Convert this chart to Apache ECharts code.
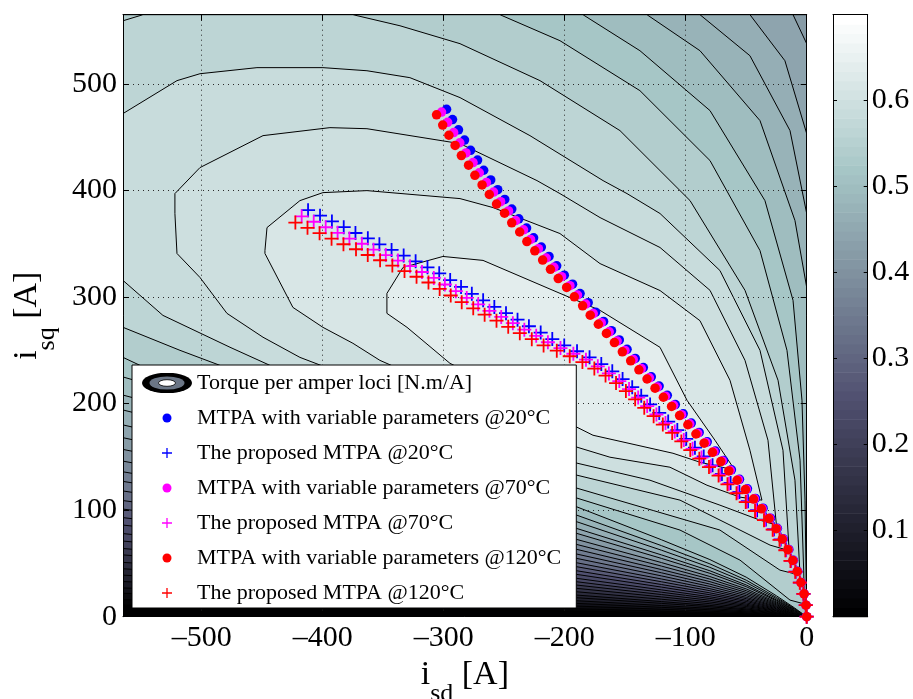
<!DOCTYPE html>
<html>
<head>
<meta charset="utf-8">
<title>Torque per ampere loci and MTPA trajectories</title>
<script src="https://cdn.jsdelivr.net/npm/echarts@6.0.0/dist/echarts.min.js"></script>
<style>
html, body { margin: 0; padding: 0; background: #ffffff; }
#chart { width: 913px; height: 699px; }
</style>
</head>
<body>
<div id="chart"></div>
<script>
// ================= DATA =================
// Contour levels of the torque-per-ampere map [N.m/A]
const contourLevels = [0.02, 0.04, 0.06, 0.08, 0.10, 0.12, 0.14, 0.16, 0.18, 0.20, 0.22,
  0.24, 0.26, 0.28, 0.30, 0.32, 0.34, 0.36, 0.38, 0.40, 0.42, 0.44, 0.46, 0.48, 0.50,
  0.52, 0.54, 0.56, 0.58, 0.60, 0.62, 0.64];
const colorbarMax = 0.699;

// Lower contour branches (left edge -> origin): i_sd stations and i_sq per level 0.02..0.52
const fanId = [-565, -190, -120, -80, -50, -25, -10];
const fanIq = [
  [11, 5.3, 3.7, 2.8, 1.9, 1.0, 0.4],
  [16, 7.5, 5.3, 3.9, 2.7, 1.4, 0.6],
  [22, 10, 7, 5.2, 3.6, 1.9, 0.8],
  [27, 12.5, 8.8, 6.5, 4.5, 2.4, 1.0],
  [33, 15, 10.5, 7.8, 5.4, 2.9, 1.2],
  [39, 17.8, 12.5, 9.3, 6.4, 3.4, 1.4],
  [45, 20.3, 14.2, 10.6, 7.3, 3.9, 1.6],
  [51, 23.4, 16.4, 12.2, 8.4, 4.4, 1.9],
  [58, 26.6, 18.6, 13.8, 9.6, 5.1, 2.1],
  [64, 29.7, 20.8, 15.4, 10.7, 5.6, 2.4],
  [71, 32.8, 23, 17.1, 11.8, 6.2, 2.6],
  [78, 36, 25.2, 18.7, 13, 6.8, 2.9],
  [86, 39.7, 27.8, 20.6, 14.3, 7.5, 3.2],
  [93, 43.1, 30.2, 22.4, 15.5, 8.2, 3.4],
  [101, 46.9, 32.8, 24.4, 16.9, 8.9, 3.8],
  [109, 50.6, 35.4, 26.3, 18.2, 9.6, 4.0],
  [118, 54.7, 38.3, 28.4, 19.7, 10.4, 4.4],
  [127, 58.8, 41.2, 30.6, 21.2, 11.2, 4.7],
  [136, 63.2, 44.2, 32.9, 22.8, 12, 5.1],
  [146, 67.8, 47.5, 35.3, 24.4, 12.9, 5.4],
  [157, 72.5, 50.8, 37.7, 26.1, 13.8, 5.8],
  [168, 78.2, 54.7, 40.7, 28.2, 14.9, 6.3],
  [180, 82.8, 58, 43.1, 29.8, 15.7, 6.6],
  [194, 89.1, 62.4, 46.3, 32.1, 16.9, 7.1],
  [208, 95.3, 66.7, 49.6, 34.3, 18.1, 7.6],
  [225, 103.1, 72.2, 53.6, 37.1, 19.6, 8.2]
];

// Upper contour branches (top edge -> right edge / origin)
const upper44 = [[-11.3, 565], [0, 537.8]];
const upper46 = [[-46.9, 565], [-18.0, 521.8], [0, 453.4]];
const upper48 = [[-88.2, 565], [-46.9, 526.5], [-13.8, 456.2], [0, 378.4]];
const upper50 = [[-132.0, 565], [-88.2, 531.2], [-38.6, 465.6], [-9.7, 371.8], [0, 309.1]];
const upper52 = [[-184.9, 565], [-137.8, 531.2], [-79.9, 475.0], [-34.5, 390.5], [-11.3, 296.9],
  [-3.9, 203.1], [-1.4, 109.4], [0, 0]];

// Closed regions for the highest levels
const poly54 = [[-565, 565], [-253.5, 565], [-203.9, 540.6], [-137.8, 493.7], [-79.9, 428.1],
  [-38.6, 343.6], [-16.3, 250.0], [-5.5, 146.9], [-2.5, 43.7], [-2.0, 12.0], [-13.8, 15.6],
  [-55.1, 53.1], [-104.7, 81.3], [-189.8, 111.3], [-551.0, 235.9], [-565, 243.4]];
const poly56 = [[-565, 559.3], [-548.5, 565], [-375.0, 565], [-336.1, 554.6], [-286.5, 537.8],
  [-220.4, 503.1], [-154.3, 456.2], [-96.4, 390.5], [-51.0, 306.3], [-23.7, 221.9], [-9.7, 128.1],
  [-5.5, 39.0], [-22.1, 43.7], [-71.7, 81.3], [-189.8, 120.6], [-484.9, 235.9], [-517.9, 250.0],
  [-565, 271.6]];
const poly58 = [[-565, 472.2], [-520.4, 503.1], [-501.4, 509.6], [-454.3, 515.3], [-399.8, 515.3],
  [-363.4, 512.4], [-327.9, 505.9], [-286.5, 487.2], [-228.7, 451.5], [-168.3, 409.3],
  [-148.5, 397.1], [-121.2, 378.4], [-71.7, 324.9], [-38.6, 250.0], [-19.6, 156.2], [-14.5, 62],
  [-30.3, 67.2], [-55.1, 81.3], [-104.7, 109.4], [-189.8, 132.8], [-443.6, 235.9],
  [-476.6, 252.9], [-532.0, 282.8], [-565, 315.6]];
const poly60 = [[-522.1, 378.4], [-522.1, 397.1], [-501.4, 421.5], [-449.3, 451.5], [-394.0, 459.0],
  [-363.4, 458.0], [-286.5, 444.0], [-222.9, 409.3], [-203.9, 397.1], [-170.8, 374.6],
  [-121.2, 346.5], [-79.9, 306.3], [-51.0, 240.6], [-32.0, 165.6], [-25.0, 86.0], [-38.6, 90.6],
  [-71.7, 104.7], [-129.5, 128.1], [-189.8, 144.1], [-418.8, 243.4], [-449.3, 262.3],
  [-479.1, 284.7], [-501.4, 318.4], [-520.4, 340.9]];
const poly62 = [[-447.7, 343.6], [-446.0, 365.2], [-418.8, 390.5], [-399.8, 398.0], [-363.4, 399.9],
  [-286.5, 392.4], [-259.3, 384.0], [-203.9, 359.6], [-170.8, 331.4], [-121.2, 306.1],
  [-88.2, 277.8], [-63.4, 221.9], [-46.9, 156.2], [-37.0, 109.4], [-55.1, 112.2], [-82.4, 123.4],
  [-113.0, 140.3], [-162.6, 149.7], [-189.8, 159.1], [-352.7, 240.6], [-375.0, 256.6],
  [-399.8, 271.6], [-424.6, 290.3], [-447.7, 340.9]];
const poly64 = [[-346.9, 284.7], [-346.9, 303.4], [-333.6, 327.8], [-300.6, 338.1], [-267.5, 334.4],
  [-209.7, 306.3], [-170.8, 287.5], [-121.2, 252.8], [-98.9, 203.1], [-75.8, 165.6], [-59.3, 137.5],
  [-88.2, 145.0], [-110.5, 153.4], [-176.6, 170.3], [-189.8, 177.8], [-294.8, 237.8], [-330.3, 271.6]];

// MTPA trajectories: current magnitude [A] and current angle from the q axis [deg]
const currentMagnitude = [0, 10.8, 21.6, 32.4, 43.2, 54, 64.8, 75.6, 86.4, 97.2, 108, 118.8, 129.6,
  140.4, 151.2, 162, 172.8, 183.6, 194.4, 205.2, 216, 226.8, 237.6, 248.4, 259.2, 270, 280.8, 291.6,
  302.4, 313.2, 324, 334.8, 345.6, 356.4, 367.2, 378, 388.8, 399.6, 410.4, 421.2, 432, 442.8, 453.6,
  464.4, 475.2, 486, 496.8, 507.6, 518.4, 529.2, 540, 550.8, 561.6];
const angleVar20 = [0, 3, 5.5, 8, 10, 11.7, 13.2, 14.8, 16.3, 17.9, 19.5, 20.9, 22.2, 23.3, 24.3, 25.1,
  25.9, 26.6, 27.2, 27.7, 28.2, 28.6, 29.0, 29.4, 29.7, 30.0, 30.3, 30.6, 30.8, 31.0, 31.2, 31.4, 31.5,
  31.7, 31.8, 32.0, 32.1, 32.2, 32.3, 32.4, 32.4, 32.5, 32.5, 32.5, 32.5, 32.5, 32.5, 32.4, 32.4, 32.3,
  32.2, 32.1, 32.0];
const angleVar70 = [0, 3.1, 5.6, 8.2, 10.2, 12.0, 13.5, 15.1, 16.6, 18.3, 19.9, 21.3, 22.6, 23.7, 24.7,
  25.5, 26.3, 27.0, 27.6, 28.1, 28.6, 29.0, 29.4, 29.8, 30.1, 30.4, 30.7, 31.0, 31.2, 31.4, 31.6, 31.8,
  31.9, 32.1, 32.2, 32.4, 32.5, 32.6, 32.7, 32.8, 32.8, 32.9, 32.9, 33.0, 33.0, 33.0, 33.0, 32.9, 32.9,
  32.8, 32.7, 32.6, 32.5];
const angleVar120 = [0, 3.2, 5.8, 8.5, 10.5, 12.3, 13.9, 15.5, 17.0, 18.7, 20.3, 21.7, 23.0, 24.2, 25.2,
  26.0, 26.8, 27.5, 28.1, 28.6, 29.1, 29.5, 29.9, 30.3, 30.6, 30.9, 31.2, 31.5, 31.7, 31.9, 32.1, 32.3,
  32.4, 32.6, 32.7, 32.9, 33.0, 33.1, 33.2, 33.3, 33.3, 33.4, 33.4, 33.5, 33.5, 33.5, 33.5, 33.4, 33.4,
  33.3, 33.2, 33.1, 33.0];
const angleProp20 = [0, 4, 7, 9.8, 12.2, 13.8, 15.2, 16.5, 18.2, 20.3, 22.3, 24.1, 25.4, 26.6, 27.6,
  28.7, 29.5, 30.2, 30.8, 31.4, 32.0, 32.5, 33.0, 33.4, 33.8, 34.3, 34.9, 35.6, 36.4, 37.3, 38.2, 38.9,
  39.5, 40.1, 40.6, 41.1, 41.6, 42.0, 42.4, 42.7, 43.0, 43.3, 43.7, 44.1, 44.5, 44.9, 45.3, 45.6, 46.0,
  46.3, 46.6, 46.9, 47.2];
const angleProp70 = [0, 4.1, 7.1, 10.0, 12.4, 14.1, 15.5, 16.9, 18.6, 20.8, 22.8, 24.6, 26.0, 27.2,
  28.2, 29.3, 30.2, 30.9, 31.5, 32.1, 32.7, 33.2, 33.7, 34.1, 34.5, 35.0, 35.6, 36.3, 37.1, 38.0, 38.9,
  39.7, 40.3, 40.9, 41.4, 41.9, 42.4, 42.8, 43.2, 43.5, 43.8, 44.1, 44.5, 44.9, 45.3, 45.7, 46.1, 46.4,
  46.8, 47.1, 47.4, 47.7, 48.0];
const angleProp120 = [0, 4.2, 7.2, 10.2, 12.6, 14.4, 15.8, 17.3, 19.0, 21.3, 23.3, 25.1, 26.6, 27.8,
  28.8, 29.9, 30.9, 31.6, 32.2, 32.8, 33.4, 33.9, 34.4, 34.8, 35.2, 35.7, 36.3, 37.0, 37.8, 38.7, 39.6,
  40.5, 41.1, 41.7, 42.2, 42.7, 43.2, 43.6, 44.0, 44.3, 44.6, 44.9, 45.3, 45.7, 46.1, 46.5, 46.9, 47.2,
  47.6, 47.9, 48.2, 48.5, 48.8];

const seriesNames = [
  'Torque per amper loci [N.m/A]',
  'MTPA with variable parameters @20°C',
  'The proposed MTPA @20°C',
  'MTPA with variable parameters @70°C',
  'The proposed MTPA @70°C',
  'MTPA with variable parameters @120°C',
  'The proposed MTPA @120°C'
];

// ================= BUILD =================
const FONT = "'Liberation Serif', 'Times New Roman', Times, serif";
const ID_MIN = -565, IQ_MAX = 565;

function boneColor(idx) {
  const g = (idx - 1) / 63;
  const hr = Math.min(idx / 24, 1);
  const hg = Math.min(Math.max((idx - 24) / 24, 0), 1);
  const hb = Math.min(Math.max((idx - 48) / 16, 0), 1);
  const r = (7 * g + hb) / 8, gg = (7 * g + hg) / 8, b = (7 * g + hr) / 8;
  return 'rgb(' + Math.round(r * 255) + ',' + Math.round(gg * 255) + ',' + Math.round(b * 255) + ')';
}
function levelColor(v) {
  let idx = Math.floor(v / colorbarMax * 64) + 1;
  idx = Math.max(1, Math.min(64, idx));
  return boneColor(idx);
}
function fanReversed(row) {
  const pts = [];
  for (let j = fanId.length - 1; j >= 0; j--) pts.push([fanId[j], fanIq[row][j]]);
  return pts;
}
const upperPieces = { '0.44': upper44, '0.46': upper46, '0.48': upper48, '0.50': upper50 };
const explicitPolys = { '0.54': poly54, '0.56': poly56, '0.58': poly58, '0.60': poly60, '0.62': poly62, '0.64': poly64 };

const polys = [[[ID_MIN, IQ_MAX], [0, IQ_MAX], [0, 0], [ID_MIN, 0]]];
const polyLevels = [0];
contourLevels.forEach(function (v, i) {
  const key = v.toFixed(2);
  let pts;
  if (explicitPolys[key]) pts = explicitPolys[key];
  else if (key === '0.52') pts = [[ID_MIN, IQ_MAX]].concat(upper52, fanReversed(i));
  else if (upperPieces[key]) pts = [[ID_MIN, IQ_MAX]].concat(upperPieces[key], [[0, 0]], fanReversed(i));
  else pts = [[ID_MIN, IQ_MAX], [0, IQ_MAX], [0, 0]].concat(fanReversed(i));
  polys.push(pts);
  polyLevels.push(v);
});

function trajectory(angles) {
  return currentMagnitude.map(function (m, k) {
    const a = angles[k] * Math.PI / 180;
    return [-m * Math.sin(a), m * Math.cos(a)];
  });
}

function svgIcon(body) {
  return 'image://data:image/svg+xml;charset=utf-8,' + encodeURIComponent(
    "<svg xmlns='http://www.w3.org/2000/svg' width='50' height='20' viewBox='0 0 50 20'>" + body + "</svg>");
}
const ringIcon = svgIcon("<ellipse cx='25' cy='10' rx='25' ry='10.3' fill='#000'/>" +
  "<ellipse cx='25' cy='10' rx='17.5' ry='6.6' fill='#6b7686'/>" +
  "<ellipse cx='25' cy='10' rx='8.5' ry='3.3' fill='#fff' stroke='#000' stroke-width='0.8'/>");
function dotIcon(c) { return svgIcon("<circle cx='25' cy='10' r='4.5' fill='" + c + "'/>"); }
function plusIcon(c) { return svgIcon("<path d='M20,10H30M25,5V15' stroke='" + c + "' stroke-width='1.3' fill='none'/>"); }

const BLUE = '#0000ff', MAGENTA = '#ff00ff', RED = '#ff0000';
const PLUS_PATH = 'path://M0,5L10,5M5,0L5,10';

function dotSeries(name, color, angles) {
  return {
    name: name, type: 'scatter', xAxisIndex: 0, yAxisIndex: 0, z: 5, clip: false,
    symbol: 'circle', symbolSize: 9.5, data: trajectory(angles),
    itemStyle: { color: color, opacity: 1 }, emphasis: { disabled: true }, silent: true
  };
}
function plusSeries(name, color, angles) {
  return {
    name: name, type: 'scatter', xAxisIndex: 0, yAxisIndex: 0, z: 5, clip: false,
    symbol: PLUS_PATH, symbolSize: 14, data: trajectory(angles),
    itemStyle: { color: 'rgba(0,0,0,0)', borderColor: color, borderWidth: 1.8, opacity: 1 },
    emphasis: { disabled: true }, silent: true
  };
}

const nameRich = {
  i: { fontSize: 34, fontFamily: FONT, color: '#000', lineHeight: 34, verticalAlign: 'top' },
  s: { fontSize: 26, fontFamily: FONT, color: '#000', padding: [24, 0, 0, 0], verticalAlign: 'bottom' },
  a: { fontSize: 34, fontFamily: FONT, color: '#000', lineHeight: 34, verticalAlign: 'top' }
};

function fmtX(v) { return v === 0 ? '0' : (v < 0 ? '\u2013' + Math.abs(v) : String(v)); }

const frameAxisLine = { show: true, onZero: false, lineStyle: { color: '#000', width: 1 } };
const frameTick = { show: true, inside: true, length: 6, lineStyle: { color: '#000', width: 1 } };
const gridDots = { show: true, lineStyle: { color: '#2a2a2a', width: 1, type: [1, 4] } };

const option = {
  animation: false,
  backgroundColor: '#ffffff',
  textStyle: { fontFamily: FONT },
  grid: [
    { left: 123, right: 106.3, top: 14.7, bottom: 82.3, containLabel: false, outerBoundsMode: 'none' },
    { left: 833, width: 34.7, top: 14.7, bottom: 82.3, containLabel: false, outerBoundsMode: 'none' }
  ],
  xAxis: [
    {
      gridIndex: 0, type: 'value', min: ID_MIN, max: 0, position: 'bottom', z: 3,
      name: '{i|i}{s|sd}{a| [A]}', nameLocation: 'middle', nameGap: 35,
      nameTextStyle: { rich: nameRich },
      axisLine: frameAxisLine, axisTick: frameTick,
      axisLabel: { show: true, margin: 6, fontSize: 30, fontFamily: FONT, color: '#000',
        showMinLabel: false, formatter: fmtX },
      splitLine: gridDots
    },
    {
      gridIndex: 0, type: 'value', min: ID_MIN, max: 0, position: 'top', z: 3,
      axisLine: frameAxisLine, axisTick: frameTick,
      axisLabel: { show: false }, splitLine: { show: false }
    },
    {
      gridIndex: 1, type: 'value', min: 0, max: 1, position: 'bottom', z: 3,
      axisLine: frameAxisLine, axisTick: { show: false }, axisLabel: { show: false }, splitLine: { show: false }
    },
    {
      gridIndex: 1, type: 'value', min: 0, max: 1, position: 'top', z: 3,
      axisLine: frameAxisLine, axisTick: { show: false }, axisLabel: { show: false }, splitLine: { show: false }
    }
  ],
  yAxis: [
    {
      gridIndex: 0, type: 'value', min: 0, max: IQ_MAX, position: 'left', z: 3,
      name: '{i|i}{s|sq}{a| [A]}', nameLocation: 'middle', nameRotate: 90, nameGap: 63,
      nameTextStyle: { rich: nameRich },
      axisLine: frameAxisLine, axisTick: frameTick,
      axisLabel: { show: true, margin: 6, fontSize: 30, fontFamily: FONT, color: '#000', showMaxLabel: false },
      splitLine: gridDots
    },
    {
      gridIndex: 0, type: 'value', min: 0, max: IQ_MAX, position: 'right', z: 3,
      axisLine: frameAxisLine, axisTick: frameTick,
      axisLabel: { show: false }, splitLine: { show: false }
    },
    {
      gridIndex: 1, type: 'value', min: 0, max: colorbarMax, interval: 0.1, position: 'right', z: 3,
      axisLine: frameAxisLine,
      axisTick: { show: true, inside: true, length: 4, lineStyle: { color: '#000', width: 1 } },
      axisLabel: { show: true, margin: 4, fontSize: 30, fontFamily: FONT, color: '#000',
        showMinLabel: false, showMaxLabel: false },
      splitLine: { show: false }
    },
    {
      gridIndex: 1, type: 'value', min: 0, max: colorbarMax, interval: 0.1, position: 'left', z: 3,
      axisLine: frameAxisLine,
      axisTick: { show: true, inside: true, length: 4, lineStyle: { color: '#000', width: 1 } },
      axisLabel: { show: false }, splitLine: { show: false }
    }
  ],
  legend: {
    show: true, orient: 'vertical', left: 132, top: 365,
    itemWidth: 50, itemHeight: 20, itemGap: 13,
    padding: [7, 15, 4, 10],
    backgroundColor: '#ffffff', borderColor: '#000', borderWidth: 1, borderRadius: 0,
    selectedMode: false, z: 10,
    textStyle: { fontFamily: FONT, fontSize: 22, color: '#000', lineHeight: 20 },
    data: [
      { name: seriesNames[0], icon: ringIcon },
      { name: seriesNames[1], icon: dotIcon(BLUE) },
      { name: seriesNames[2], icon: plusIcon(BLUE) },
      { name: seriesNames[3], icon: dotIcon(MAGENTA) },
      { name: seriesNames[4], icon: plusIcon(MAGENTA) },
      { name: seriesNames[5], icon: dotIcon(RED) },
      { name: seriesNames[6], icon: plusIcon(RED) }
    ]
  },
  series: [
    {
      name: seriesNames[0], type: 'custom', xAxisIndex: 0, yAxisIndex: 0, z: 1, clip: true, silent: true,
      data: polyLevels.map(function (v) { return [-300, 300, v]; }),
      renderItem: function (params, api) {
        const idx = params.dataIndex;
        const pts = polys[idx].map(function (p) { return api.coord(p); });
        return {
          type: 'polygon', shape: { points: pts },
          style: { fill: levelColor(polyLevels[idx]), stroke: idx === 0 ? null : '#000', lineWidth: 1 }
        };
      }
    },
    dotSeries(seriesNames[1], BLUE, angleVar20),
    plusSeries(seriesNames[2], BLUE, angleProp20),
    dotSeries(seriesNames[3], MAGENTA, angleVar70),
    plusSeries(seriesNames[4], MAGENTA, angleProp70),
    dotSeries(seriesNames[5], RED, angleVar120),
    plusSeries(seriesNames[6], RED, angleProp120),
    {
      name: 'colorbar', type: 'custom', xAxisIndex: 2, yAxisIndex: 2, z: 1, silent: true,
      data: [[0.5, colorbarMax / 2]],
      renderItem: function (params, api) {
        const children = [];
        for (let i = 0; i < 64; i++) {
          const p0 = api.coord([0, i * colorbarMax / 64]);
          const p1 = api.coord([1, (i + 1) * colorbarMax / 64]);
          children.push({
            type: 'rect',
            shape: { x: p0[0], y: p1[1], width: p1[0] - p0[0], height: p0[1] - p1[1] + 0.6 },
            style: { fill: boneColor(i + 1) }
          });
        }
        return { type: 'group', children: children };
      }
    }
  ]
};

const chart = echarts.init(document.getElementById('chart'), null, { renderer: 'canvas' });
chart.setOption(option);
</script>
</body>
</html>
